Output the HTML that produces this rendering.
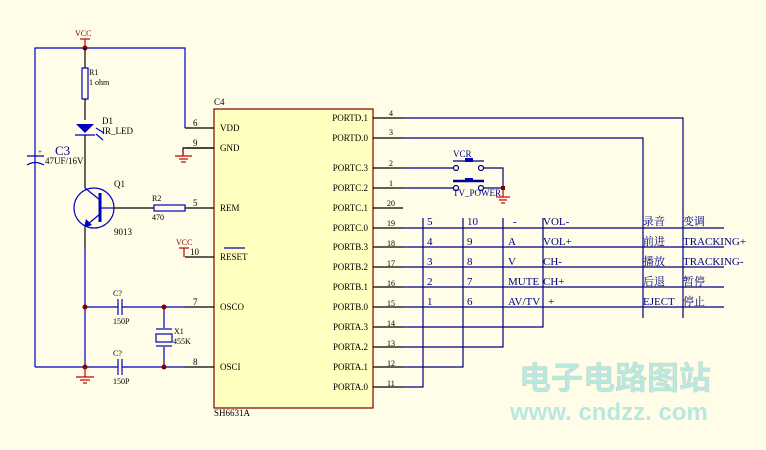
<!DOCTYPE html>
<html><head><meta charset="utf-8"><style>
html,body{margin:0;padding:0;background:#fffde8;}
svg{display:block;font-family:"Liberation Serif",serif;}
.t{font-size:9px;fill:#000;}
.b{stroke:#0000c0;fill:none;stroke-width:1.2}
.n{stroke:#000080;fill:none;stroke-width:1.2}
.k{stroke:#000;fill:none;stroke-width:1.2}
.r{stroke:#c00000;fill:none;stroke-width:1.2}
.l{font-size:9px;fill:#000080;}
.c{font-family:"Liberation Serif","Noto Serif CJK SC",serif;font-size:11px;fill:#000080;}
</style></head><body>
<svg width="766" height="450" viewBox="0 0 766 450">
<rect x="214" y="109" width="159" height="299" fill="#ffffc0" stroke="#800000" stroke-width="1.2"/>
<text x="214" y="105" class="t">C4</text>
<text x="214" y="416" class="t">SH6631A</text>
<g class="t">
<text x="220" y="131">VDD</text><text x="220" y="151">GND</text>
<text x="220" y="211">REM</text><text x="220" y="260">RESET</text>
<text x="220" y="310">OSCO</text><text x="220" y="370">OSCI</text>
<text x="193" y="126">6</text><text x="193" y="146">9</text><text x="193" y="206">5</text>
<text x="190" y="255">10</text><text x="193" y="305">7</text><text x="193" y="365">8</text>
</g>
<line x1="224" y1="248" x2="245" y2="248" class="b"/>
<g class="k">
<line x1="185" y1="128" x2="214" y2="128"/><line x1="185" y1="148" x2="214" y2="148"/>
<line x1="185" y1="208" x2="214" y2="208"/><line x1="185" y1="257" x2="214" y2="257"/>
<line x1="185" y1="307" x2="214" y2="307"/><line x1="185" y1="367" x2="214" y2="367"/>
</g>
<g class="t" text-anchor="end">
<text x="368" y="121">PORTD.1</text><text x="368" y="141">PORTD.0</text>
<text x="368" y="171">PORTC.3</text><text x="368" y="191">PORTC.2</text>
<text x="368" y="211">PORTC.1</text><text x="368" y="231">PORTC.0</text>
<text x="368" y="250">PORTB.3</text><text x="368" y="270">PORTB.2</text>
<text x="368" y="290">PORTB.1</text><text x="368" y="310">PORTB.0</text>
<text x="368" y="330">PORTA.3</text><text x="368" y="350">PORTA.2</text>
<text x="368" y="370">PORTA.1</text><text x="368" y="390">PORTA.0</text>
</g>
<g class="t" style="font-size:8px">
<text x="389" y="116">4</text><text x="389" y="135">3</text><text x="389" y="166">2</text><text x="389" y="186">1</text>
<text x="387" y="206">20</text><text x="387" y="226">19</text><text x="387" y="246">18</text><text x="387" y="266">17</text>
<text x="387" y="286">16</text><text x="387" y="306">15</text><text x="387" y="326">14</text><text x="387" y="346">13</text>
<text x="387" y="366">12</text><text x="387" y="386">11</text>
</g>
<g class="k">
<line x1="373" y1="118" x2="403" y2="118"/><line x1="373" y1="138" x2="403" y2="138"/>
<line x1="373" y1="168" x2="403" y2="168"/><line x1="373" y1="188" x2="403" y2="188"/>
<line x1="373" y1="208" x2="403" y2="208"/><line x1="373" y1="228" x2="403" y2="228"/>
<line x1="373" y1="247" x2="403" y2="247"/><line x1="373" y1="267" x2="403" y2="267"/>
<line x1="373" y1="287" x2="403" y2="287"/><line x1="373" y1="307" x2="403" y2="307"/>
<line x1="373" y1="327" x2="403" y2="327"/><line x1="373" y1="347" x2="403" y2="347"/>
<line x1="373" y1="367" x2="403" y2="367"/><line x1="373" y1="387" x2="403" y2="387"/>
</g>
<g class="n">
<polyline points="403,118 683,118 683,318"/>
<polyline points="403,138 643,138 643,318"/>
<line x1="403" y1="228" x2="724" y2="228"/><line x1="403" y1="247" x2="724" y2="247"/>
<line x1="403" y1="267" x2="724" y2="267"/><line x1="403" y1="287" x2="724" y2="287"/>
<line x1="403" y1="307" x2="724" y2="307"/>
<polyline points="403,327 543,327 543,218"/>
<polyline points="403,347 503,347 503,218"/>
<polyline points="403,367 463,367 463,218"/>
<polyline points="403,387 423,387 423,218"/>
</g>
<g class="n">
<line x1="403" y1="168" x2="453" y2="168"/><line x1="403" y1="188" x2="453" y2="188"/>
<polyline points="484,168 503,168 503,188"/><line x1="484" y1="188" x2="503" y2="188"/>
<circle cx="456" cy="168" r="2.5"/><circle cx="481" cy="168" r="2.5"/>
<circle cx="456" cy="188" r="2.5"/><circle cx="481" cy="188" r="2.5"/>
<line x1="453" y1="161" x2="484" y2="161"/><line x1="453" y1="181" x2="484" y2="181" stroke-width="2.5"/>
</g>
<rect x="465" y="158" width="8" height="4" fill="#0000c0"/><rect x="465" y="178" width="8" height="4" fill="#0000c0"/>
<text x="453" y="157" class="l">VCR</text><text x="453" y="196" class="l">TV_POWER</text>
<rect x="501" y="186" width="4" height="4" fill="#800000"/>
<g class="r"><line x1="503" y1="190" x2="503" y2="197"/><line x1="496" y1="197" x2="510" y2="197"/><line x1="499" y1="200" x2="507" y2="200"/><line x1="501" y1="203" x2="505" y2="203"/></g>
<g class="c">
<text x="427" y="225">5</text><text x="467" y="225">10</text><text x="513" y="225">-</text><text x="543" y="225">VOL-</text>
<text x="427" y="245">4</text><text x="467" y="245">9</text><text x="508" y="245">A</text><text x="543" y="245">VOL+</text>
<text x="427" y="265">3</text><text x="467" y="265">8</text><text x="508" y="265">V</text><text x="543" y="265">CH-</text>
<text x="427" y="285">2</text><text x="467" y="285">7</text><text x="508" y="285">MUTE</text><text x="543" y="285">CH+</text>
<text x="427" y="305">1</text><text x="467" y="305">6</text><text x="508" y="305">AV/TV</text><text x="548" y="305">+</text>
<text x="643" y="225">录音</text><text x="683" y="225">变调</text>
<text x="643" y="245">前进</text><text x="683" y="245">TRACKING+</text>
<text x="643" y="265">播放</text><text x="683" y="265">TRACKING-</text>
<text x="643" y="285">后退</text><text x="683" y="285">暂停</text>
<text x="643" y="305">EJECT</text><text x="683" y="305">停止</text>
</g>
<text x="75" y="36" style="font-size:8px;fill:#800000">VCC</text>
<line x1="80" y1="39" x2="90" y2="39" class="r"/><line x1="85" y1="39" x2="85" y2="48" class="r"/>
<polyline points="35,367 35,48 185,48 185,128" class="b"/>
<circle cx="85" cy="48" r="2.5" fill="#800000"/>
<line x1="85" y1="48" x2="85" y2="68" class="k"/>
<rect x="82" y="68" width="6" height="31" class="b" fill="none"/>
<text x="89" y="75" class="t" style="font-size:8px">R1</text><text x="89" y="85" class="t" style="font-size:8px">1 ohm</text>
<line x1="85" y1="99" x2="85" y2="120" class="k"/>
<polygon points="76,124 94,124 85,133" fill="#0000c0"/><line x1="75" y1="135" x2="95" y2="135" class="b" stroke-width="2"/>
<line x1="85" y1="135" x2="85" y2="188" class="k"/>
<text x="102" y="124" class="t">D1</text><text x="102" y="134" class="t">IR_LED</text>
<line x1="96" y1="128" x2="104" y2="133" class="b"/><line x1="96" y1="134" x2="103" y2="140" class="b"/>
<line x1="27" y1="156" x2="44" y2="156" class="b"/><path d="M27,165 Q35,160 44,165" class="b"/>
<text x="38" y="154" class="t" style="font-size:7px">+</text>
<text x="55" y="155" style="font-size:13px;fill:#000080">C3</text>
<text x="45" y="164" class="t">47UF/16V</text>
<circle cx="94" cy="208" r="20" class="b"/>
<line x1="100" y1="193" x2="100" y2="222" stroke="#0000c0" stroke-width="3"/>
<line x1="85" y1="188" x2="100" y2="200" class="b"/><line x1="100" y1="214" x2="88" y2="224" class="b"/>
<polygon points="84,228 86,219 92,225" fill="#0000c0"/>
<line x1="100" y1="208" x2="114" y2="208" class="b"/><line x1="114" y1="208" x2="154" y2="208" class="k"/>
<text x="114" y="187" class="t">Q1</text><text x="114" y="235" class="t">9013</text>
<rect x="154" y="205" width="31" height="6" class="b"/>
<text x="152" y="201" class="t" style="font-size:8px">R2</text><text x="152" y="220" class="t" style="font-size:8px">470</text>
<polyline points="85,248 85,367 35,367" class="b"/>
<line x1="85" y1="228" x2="85" y2="248" class="k"/>
<polyline points="214,148 183,148 183,155" class="k"/>
<g class="r"><line x1="183" y1="150" x2="183" y2="156"/><line x1="175" y1="156" x2="192" y2="156"/><line x1="179" y1="159" x2="188" y2="159"/><line x1="181" y1="162" x2="186" y2="162"/></g>
<text x="176" y="245" style="font-size:8px;fill:#800000">VCC</text>
<line x1="179" y1="248" x2="189" y2="248" class="r"/><line x1="184" y1="248" x2="184" y2="257" class="r"/>
<g class="b">
<line x1="85" y1="307" x2="118" y2="307"/><line x1="122" y1="307" x2="185" y2="307"/>
<line x1="118" y1="299" x2="118" y2="315"/><line x1="122" y1="299" x2="122" y2="315"/>
<line x1="85" y1="367" x2="118" y2="367"/><line x1="122" y1="367" x2="185" y2="367"/>
<line x1="118" y1="359" x2="118" y2="375"/><line x1="122" y1="359" x2="122" y2="375"/>
<line x1="164" y1="307" x2="164" y2="328"/><line x1="156" y1="329" x2="172" y2="329"/>
<rect x="156" y="334" width="16" height="8"/><line x1="156" y1="346" x2="172" y2="346"/>
<line x1="164" y1="347" x2="164" y2="367"/>
</g>
<text x="113" y="296" class="t" style="font-size:8px">C?</text><text x="113" y="324" class="t" style="font-size:8px">150P</text>
<text x="113" y="356" class="t" style="font-size:8px">C?</text><text x="113" y="384" class="t" style="font-size:8px">150P</text>
<text x="174" y="334" class="t" style="font-size:8px">X1</text><text x="173" y="344" class="t" style="font-size:8px">455K</text>
<g fill="#800000"><circle cx="85" cy="307" r="2.5"/><circle cx="164" cy="307" r="2.5"/><circle cx="85" cy="367" r="2.5"/><circle cx="164" cy="367" r="2.5"/></g>
<g class="r"><line x1="85" y1="367" x2="85" y2="377"/><line x1="76" y1="377" x2="94" y2="377"/><line x1="80" y1="380" x2="90" y2="380"/><line x1="83" y1="383" x2="87" y2="383"/></g>
<text x="519" y="389" style="font-family:'Noto Sans CJK SC',sans-serif;font-size:32px;font-weight:bold;fill:#b8e8e0;stroke:#c8d8c8;stroke-width:0.5">电子电路图站</text>
<text x="510" y="420" style="font-family:'Liberation Sans',sans-serif;font-size:24px;font-weight:bold;fill:#b8e8e0">www. cndzz. com</text>
</svg>
</body></html>
